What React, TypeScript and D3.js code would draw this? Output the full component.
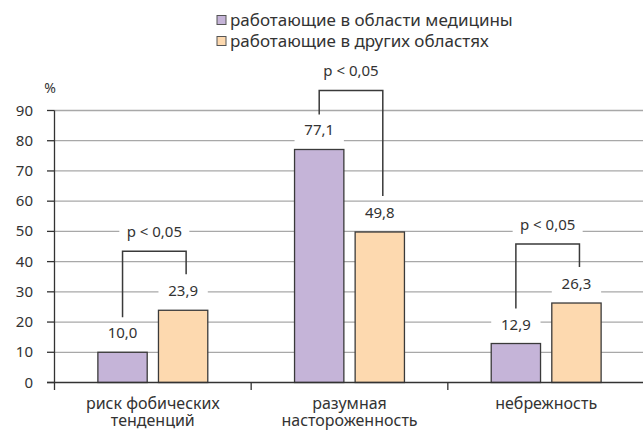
import React from 'react';
import * as d3 from 'd3';

const categories = ['риск фобических|тенденций', 'разумная|настороженность', 'небрежность'];
const seriesNames = ['работающие в области медицины', 'работающие в других областях'];
const medValues = [10.0, 77.1, 12.9];
const otherValues = [23.9, 49.8, 26.3];
const pLabels = ['p < 0,05', 'p < 0,05', 'p < 0,05'];
const yTicks = [0, 10, 20, 30, 40, 50, 60, 70, 80, 90];

const colors = ['#c5b4d8', '#fdd9af'];
const font = "'Noto Sans', sans-serif";
const textColor = '#333';

const fmt = (v: number) => v.toFixed(1).replace('.', ',');

const App: React.FC = () => {
  const width = 643;
  const height = 430;

  const x = d3.scaleBand<string>().domain(categories).range([54.5, 644.5]);
  const x1 = d3.scaleBand<number>().domain([0, 1]).range([0, x.bandwidth()])
    .paddingInner(0.186).paddingOuter(0.716);
  const y = d3.scaleLinear().domain([0, 90]).range([382.5, 110.5]);

  const groups = categories.map((c, i) => {
    const vals = [medValues[i], otherValues[i]];
    const bars = vals.map((v, s) => {
      const bx = (x(c) as number) + (x1(s) as number);
      return { s, v, x: bx, w: x1.bandwidth(), cx: bx + x1.bandwidth() / 2, top: y(v) };
    });
    const labelYs = bars.map(b => b.top - 19);
    const bracketTop = Math.min(...labelYs) - 40;
    return { c, i, bars, labelYs, bracketTop };
  });

  return (
    <svg width={width} height={height} style={{ position: 'absolute', left: 0, top: 0, background: '#fff' }}
      fontFamily={font}>
      {/* legend */}
      {seriesNames.map((n, i) => (
        <g key={n} transform={`translate(217,${20 + i * 21})`}>
          <rect x={0} y={-4.5} width={9} height={9} fill={colors[i]} stroke="#555" strokeWidth={1} />
          <text x={13} y={5.5} fontSize={17} fill={textColor}>{n}</text>
        </g>
      ))}

      <text x={50} y={93} fontSize={14} fill={textColor} textAnchor="middle">%</text>

      {/* grid */}
      {yTicks.map(t => (
        <g key={t}>
          {t > 0 && <line x1={54.5} x2={width} y1={y(t)} y2={y(t)} stroke="#a8a8a8" strokeWidth={1.3} />}
          <line x1={47} x2={54.5} y1={y(t)} y2={y(t)} stroke="#333" strokeWidth={1.3} />
          <text x={33} y={y(t) + 5} fontSize={15} fill={textColor} textAnchor="end">{t}</text>
        </g>
      ))}

      {/* bars */}
      {groups.map(g => g.bars.map(b => (
        <rect key={`${g.i}-${b.s}`} x={b.x} y={b.top} width={b.w} height={y(0) - b.top}
          fill={colors[b.s]} stroke="#3a3a3a" strokeWidth={1.3} />
      )))}

      {/* axes */}
      <line x1={54.5} x2={54.5} y1={y(90)} y2={390} stroke="#333" strokeWidth={1.3} />
      <line x1={47} x2={width} y1={y(0)} y2={y(0)} stroke="#333" strokeWidth={1.3} />
      {categories.slice(1).map(c => (
        <line key={c} x1={x(c)} x2={x(c)} y1={y(0)} y2={390} stroke="#333" strokeWidth={1.3} />
      ))}

      {/* category labels */}
      {categories.map(c => (
        <text key={c} fontSize={16} fill={textColor} textAnchor="middle">
          {c.split('|').map((line, k) => (
            <tspan key={k} x={(x(c) as number) + x.bandwidth() / 2} y={409 + k * 17}>{line}</tspan>
          ))}
        </text>
      ))}

      {/* value labels, brackets */}
      {groups.map(g => {
        const [a, b] = g.bars;
        const lx = a.cx;
        const rx = b.cx + 3;
        const pY = g.bracketTop - 19;
        return (
          <g key={g.c}>
            {g.bars.map((bar, k) => (
              <g key={k}>
                <rect x={bar.x} y={g.labelYs[k] - 10} width={bar.w} height={22} fill="#fff" />
                <text x={bar.cx} y={g.labelYs[k] + 5} fontSize={15} fill={textColor} textAnchor="middle">{fmt(bar.v)}</text>
              </g>
            ))}
            <rect x={(lx + rx) / 2 - 35} y={pY - 10} width={70} height={22} fill="#fff" />
            <text x={(lx + rx) / 2} y={pY + 5} fontSize={15} fill={textColor} textAnchor="middle">{pLabels[g.i]}</text>
            <path d={`M${lx},${g.labelYs[0] - 16}V${g.bracketTop}H${rx}V${g.labelYs[1] - 17}`}
              fill="none" stroke="#3a3a3a" strokeWidth={1.5} />
          </g>
        );
      })}
    </svg>
  );
};

export default App;
